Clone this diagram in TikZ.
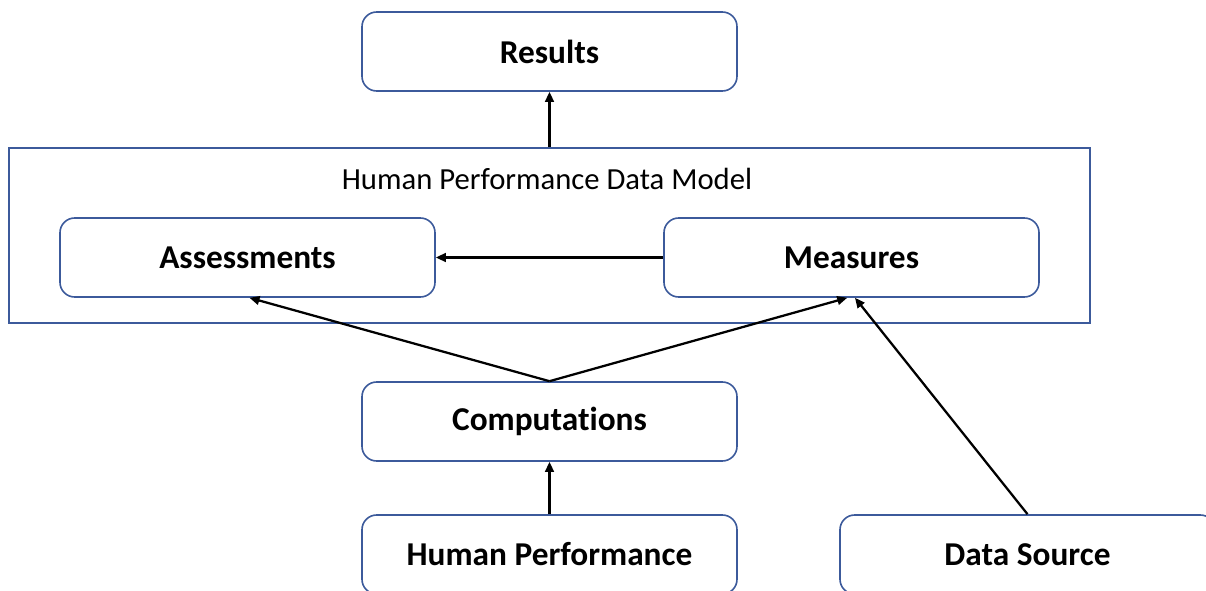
\documentclass[tikz,border=0pt]{standalone}
\usepackage{fontspec}
\setmainfont{Carlito}[Ligatures=NoCommon]
\usetikzlibrary{arrows.meta}
\definecolor{boxline}{RGB}{60,90,155}
\begin{document}
\begin{tikzpicture}[x=0.75pt,y=-0.75pt,
  box/.style={draw=boxline, line width=1.2pt, rounded corners=11pt,
    minimum width=281.25pt, minimum height=59.25pt, inner sep=0pt,
    font=\bfseries\fontsize{25}{28}\selectfont},
  frame/.style={draw=boxline, line width=1.2pt, minimum width=810.75pt,
    minimum height=131.25pt, inner sep=0pt},
  title/.style={font=\fontsize{23}{26}\selectfont, inner sep=0pt},
  link/.style={black, line width=1.7pt, -{Triangle[length=7.5pt,width=6.5pt]}}]
\useasboundingbox (0,0) rectangle (1206,591);

% data model container and its caption
\node[frame] (model) at (549.5,235.5) {};
\node[title] (modeltitle) at (547,179) {Human Performance Data Model};

% boxes
\node[box] (results) at (549.5,51.5) {Results};
\node[box] (assess) at (247.5,257.5) {Assessments};
\node[box] (meas) at (851.5,257.5) {Measures};
\node[box] (comp) at (549.5,421.5) {Computations};
\node[box] (hperf) at (549.5,554.5) {Human Performance};
\node[box] (dsrc) at (1027.5,554.5) {Data Source};

% connectors
\draw[link] (model.north) -- (results.south);
\draw[link] (meas.west) -- (assess.east);
\draw[link] (comp.north) -- ([xshift=1.5pt]assess.south);
\draw[link] (comp.north) -- ([xshift=-3.2pt]meas.south);
\draw[link] (dsrc.north) -- ([xshift=2.6pt]meas.south);
\draw[link] (hperf.north) -- (comp.south);
\end{tikzpicture}
\end{document}
